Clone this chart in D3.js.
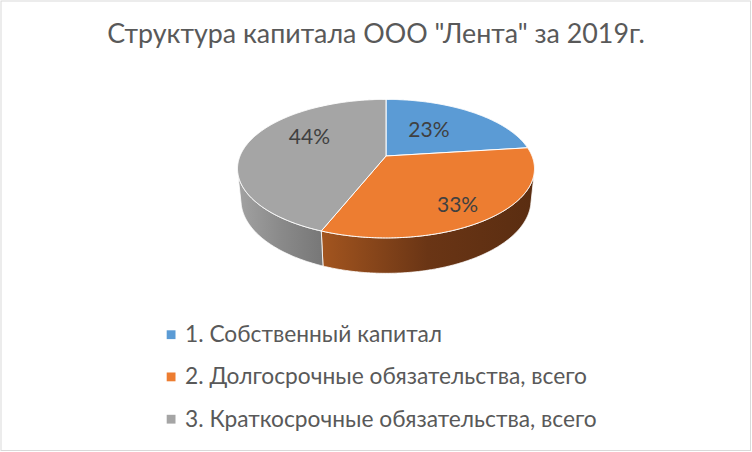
<!DOCTYPE html>
<html>
<head>
<meta charset="utf-8">
<script src="https://cdn.jsdelivr.net/npm/d3@7"></script>
<style>
  html, body { margin: 0; padding: 0; background: #fff; }
  svg { display: block; }
</style>
</head>
<body>
<svg id="chart" width="752" height="452"></svg>
<script>
// ---- data ----
const title = 'Структура капитала ООО "Лента" за 2019г.';
const categories = [
  "1. Собственный капитал",
  "2. Долгосрочные обязательства, всего",
  "3. Краткосрочные обязательства, всего"
];
const values = [23, 33, 44];
const percentLabels = ["23%", "33%", "44%"];

// ---- styles / layout ----
const topColors = ["#5B9BD5", "#ED7D31", "#A5A5A5"];
const sideStops = [
  ["#5B9BD5", "#2f5f8c"],
  ["#a3551f", "#6a3515", "#5a2d11"],
  ["#a2a2a2", "#8a8a8a", "#777777"]
];
const W = 752, H = 452;
const cx = 386, cy = 156;           // projected pie centre
const f = 711, D = 4.87;             // perspective focal / camera distance (R = 1)
const tilt = 27.3 * Math.PI / 180;   // elevation
const depth = 0.244;                 // pie thickness (relative to radius)
const sT = Math.sin(tilt), cT = Math.cos(tilt);
// label placement: fraction of slice angle, radius fraction
const labelFrac = [0.443, 0.53, 0.612];
const labelRad = [0.53, 0.77, 0.63];

const svg = d3.select("#chart");
svg.append("rect").attr("x", 1).attr("y", 1).attr("width", W - 2.5).attr("height", H - 2.5)
  .attr("fill", "#fff").attr("stroke", "#d9d9d9").attr("stroke-width", 1);

function project(a, r, h) {
  const u = r * Math.sin(a), v = r * Math.cos(a);
  const yUp = v * sT + h * cT;
  const z = D + v * cT - h * sT;
  return [cx + f * u / z, cy - f * yUp / z];
}

const pie = d3.pie().sort(null).value(d => d);
const arcs = pie(values);
const line = d3.line();
const step = Math.PI / 360;

function rim(a0, a1, r, h) {
  const n = Math.max(2, Math.ceil((a1 - a0) / step));
  const pts = [];
  for (let i = 0; i <= n; i++) pts.push(project(a0 + (a1 - a0) * i / n, r, h));
  return pts;
}

// visible wall range: cos a < -1/(D*cos tilt)
const visA = Math.acos(-1 / (D * cT));
const vis0 = visA, vis1 = 2 * Math.PI - visA;

const defs = svg.append("defs");
const gWalls = svg.append("g");
const gTops = svg.append("g");

arcs.forEach((d, i) => {
  const b0 = Math.max(d.startAngle, vis0), b1 = Math.min(d.endAngle, vis1);
  if (b1 > b0) {
    const top = rim(b0, b1, 1, 0);
    const bot = rim(b0, b1, 1, -depth).reverse();
    const pts = top.concat(bot);
    const xs = pts.map(p => p[0]);
    const gid = "side" + i;
    const grad = defs.append("linearGradient").attr("id", gid)
      .attr("gradientUnits", "userSpaceOnUse")
      .attr("x1", d3.min(xs)).attr("x2", d3.max(xs)).attr("y1", 0).attr("y2", 0);
    const stops = sideStops[i];
    stops.forEach((c, k) => grad.append("stop")
      .attr("offset", k / (stops.length - 1)).attr("stop-color", c));
    gWalls.append("path").attr("d", line(pts) + "Z")
      .attr("fill", `url(#${gid})`).attr("stroke", "#fff").attr("stroke-width", 0.8)
      .attr("stroke-linejoin", "round");
  }
  const face = [project(0, 0, 0)].concat(rim(d.startAngle, d.endAngle, 1, 0));
  gTops.append("path").attr("d", line(face) + "Z")
    .attr("fill", topColors[i]).attr("stroke", "#fff").attr("stroke-width", 1)
    .attr("stroke-linejoin", "round");
});

// percent labels
arcs.forEach((d, i) => {
  const a = d.startAngle + (d.endAngle - d.startAngle) * labelFrac[i];
  const p = project(a, labelRad[i], 0);
  svg.append("text").attr("x", p[0]).attr("y", p[1]).attr("dy", "0.36em")
    .attr("text-anchor", "middle")
    .attr("font-family", "Lato, 'Open Sans', sans-serif").attr("font-size", 21)
    .attr("fill", "#404040").text(percentLabels[i]);
});

// fit text to target width
function fitText(sel, targetW, baseSize) {
  sel.attr("font-size", baseSize);
  const w = sel.node().getComputedTextLength();
  const s = baseSize * targetW / w;
  sel.attr("font-size", s);
  return s;
}

const t = svg.append("text").attr("x", 376).attr("y", 43.3).attr("text-anchor", "middle")
  .attr("font-family", "Lato, 'Open Sans', sans-serif").attr("fill", "#595959").text(title);
fitText(t, 538, 24);

// legend
const legendY = [342, 384.2, 426.5];
const lg = svg.append("g");
const probe = lg.append("text").attr("font-family", "Lato, 'Open Sans', sans-serif").text(categories[2]);
const legSize = fitText(probe, 412, 19);
probe.remove();
categories.forEach((c, i) => {
  lg.append("rect").attr("x", 166.7).attr("y", legendY[i] - 11.7).attr("width", 8.8).attr("height", 8.8)
    .attr("fill", topColors[i]);
  lg.append("text").attr("x", 185).attr("y", legendY[i])
    .attr("font-family", "Lato, 'Open Sans', sans-serif").attr("font-size", legSize)
    .attr("fill", "#595959").text(c);
});
</script>
</body>
</html>
